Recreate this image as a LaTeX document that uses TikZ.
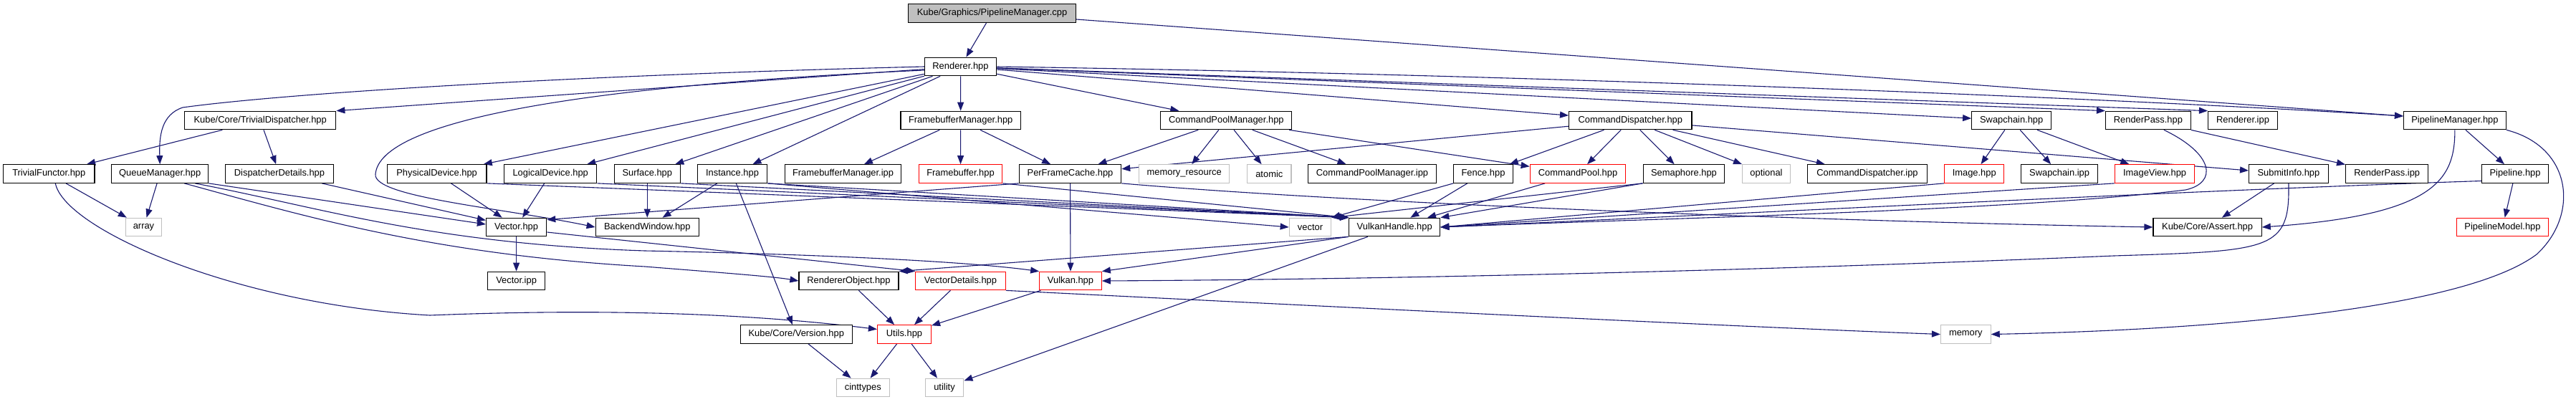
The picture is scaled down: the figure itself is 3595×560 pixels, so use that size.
\documentclass[tikz,border=0pt]{standalone}
\usepackage{fontspec}
\setmainfont{Liberation Sans}
\usetikzlibrary{arrows.meta,backgrounds}
\definecolor{edgec}{HTML}{191970}
\definecolor{grayc}{HTML}{BFBFBF}
\definecolor{redc}{HTML}{FF0000}
\begin{document}
\begin{tikzpicture}[x=1pt,y=-1pt,
  nd/.style={draw=black, line width=1.2pt, minimum height=25.5pt, inner sep=0pt, fill=white,
    font=\fontsize{12.9}{15}\selectfont},
  sysn/.style={nd, draw=grayc},
  trunc/.style={nd, draw=redc},
  rootn/.style={nd, fill=grayc},
  edg/.style={draw=edgec, line width=1.1pt, -{Triangle[length=12pt,width=9pt]}},
]
\useasboundingbox (0,0) rectangle (3595,560);
% row 1
\node[rootn, minimum width=234pt] (root) at (1384.5,18.5) {Kube/Graphics/PipelineManager.cpp};
% row 2
\node[nd, minimum width=100.3pt] (renderer) at (1340.5,93) {Renderer.hpp};
% row 3
\node[nd, minimum width=211.2pt] (tdisp) at (363.2,168) {Kube/Core/TrivialDispatcher.hpp};
\node[nd, minimum width=167.3pt] (fbm) at (1340.7,168) {FramebufferManager.hpp};
\node[nd, minimum width=183.1pt] (cpm) at (1711.3,168) {CommandPoolManager.hpp};
\node[nd, minimum width=171.4pt] (cdisp) at (2275.3,168) {CommandDispatcher.hpp};
\node[nd, minimum width=111pt] (swap) at (2807.2,168) {Swapchain.hpp};
\node[nd, minimum width=118.8pt] (rpass) at (2997.9,168) {RenderPass.hpp};
\node[nd, minimum width=96.9pt] (ripp) at (3130,168) {Renderer.ipp};
\node[nd, minimum width=142.7pt] (pmgr) at (3425.9,168) {PipelineManager.hpp};
% row 4
\node[nd, minimum width=127.4pt] (tfunc) at (68.3,242.5) {TrivialFunctor.hpp};
\node[nd, minimum width=134.7pt] (qmgr) at (223.2,242.5) {QueueManager.hpp};
\node[nd, minimum width=150.8pt] (ddet) at (390,242.5) {DispatcherDetails.hpp};
\node[nd, minimum width=138.6pt] (phys) at (609.6,242.5) {PhysicalDevice.hpp};
\node[nd, minimum width=129pt] (logi) at (768.2,242.5) {LogicalDevice.hpp};
\node[nd, minimum width=92.2pt] (surf) at (903.3,242.5) {Surface.hpp};
\node[nd, minimum width=97.5pt] (inst) at (1022,242.5) {Instance.hpp};
\node[nd, minimum width=162.6pt] (fbmipp) at (1176.5,242.5) {FramebufferManager.ipp};
\node[trunc, minimum width=116.3pt] (fb) at (1340.5,242.5) {Framebuffer.hpp};
\node[nd, minimum width=142.3pt] (pfc) at (1493.5,242.5) {PerFrameCache.hpp};
\node[sysn, minimum width=126.2pt] (memres) at (1652.7,242.5) {memory\_resource};
\node[sysn, minimum width=61.2pt] (atomic) at (1771.3,242.5) {atomic};
\node[nd, minimum width=178.7pt] (cpmipp) at (1915,242.5) {CommandPoolManager.ipp};
\node[nd, minimum width=82.3pt] (fence) at (2070,242.5) {Fence.hpp};
\node[trunc, minimum width=133.5pt] (cpool) at (2202,242.5) {CommandPool.hpp};
\node[nd, minimum width=113.7pt] (sema) at (2350,242.5) {Semaphore.hpp};
\node[sysn, minimum width=67pt] (optional) at (2465,242.5) {optional};
\node[nd, minimum width=166.8pt] (cdipp) at (2606,242.5) {CommandDispatcher.ipp};
\node[trunc, minimum width=82.7pt] (image) at (2755.2,242.5) {Image.hpp};
\node[nd, minimum width=107pt] (swipp) at (2874.1,242.5) {Swapchain.ipp};
\node[trunc, minimum width=111.4pt] (iview) at (3007.1,242.5) {ImageView.hpp};
\node[nd, minimum width=110.6pt] (subinfo) at (3193.9,242.5) {SubmitInfo.hpp};
\node[nd, minimum width=115.2pt] (rpipp) at (3331.2,242.5) {RenderPass.ipp};
\node[nd, minimum width=93.3pt] (pipe) at (3510,242.5) {Pipeline.hpp};
% row 5
\node[sysn, minimum width=50.5pt] (array) at (200.5,317) {array};
\node[nd, minimum width=84.2pt] (vec) at (720.6,317) {Vector.hpp};
\node[nd, minimum width=144.2pt] (bwin) at (903.3,317) {BackendWindow.hpp};
\node[sysn, minimum width=58.5pt] (stdvec) at (1828.5,317) {vector};
\node[nd, minimum width=127pt] (vkh) at (1946.2,317) {VulkanHandle.hpp};
\node[nd, minimum width=151.2pt] (assert) at (3080.6,317) {Kube/Core/Assert.hpp};
\node[trunc, minimum width=128pt] (pmodel) at (3492.5,317) {PipelineModel.hpp};
% row 6
\node[nd, minimum width=80.4pt] (vecipp) at (720.6,392) {Vector.ipp};
\node[nd, minimum width=139pt] (robj) at (1184.5,392) {RendererObject.hpp};
\node[trunc, minimum width=125.5pt] (vdet) at (1340.5,392) {VectorDetails.hpp};
\node[trunc, minimum width=86.5pt] (vulkan) at (1494,392) {Vulkan.hpp};
% row 7
\node[nd, minimum width=156.2pt] (version) at (1111.3,466.5) {Kube/Core/Version.hpp};
\node[trunc, minimum width=75pt] (utils) at (1262,466.5) {Utils.hpp};
\node[sysn, minimum width=69.6pt] (memory) at (2743.3,466.5) {memory};
% row 8
\node[sysn, minimum width=74pt] (cint) at (1204.3,541) {cinttypes};
\node[sysn, minimum width=53.7pt] (utility) at (1318,541) {utility};

\begin{scope}[on background layer]
\fill[white] (0,0) rectangle (3595,560);
% root
\draw[edg] (root) -- (renderer);
\draw[edg] (root) -- ([yshift=6pt]pmgr.west);
% Renderer.hpp
\draw[edg] (renderer.west) .. controls (800,105) and (400,130) .. (255,150) .. controls (225,160) and (222,190) .. (qmgr.north);
\draw[edg] (renderer) -- (tdisp.north east);
\draw[edg] (renderer) -- (phys);
\draw[edg] (renderer) -- (logi);
\draw[edg] (renderer) -- (surf);
\draw[edg] (renderer) -- (inst);
\draw[edg] ([yshift=-5pt]renderer.west) .. controls (800,120) and (530,170) .. (524,243) .. controls (520,275) and (700,290) .. (bwin.west);
\draw[edg] (renderer) -- (fbm);
\draw[edg] (renderer) -- (cpm);
\draw[edg] (renderer) -- (cdisp);
\draw[edg] (renderer) -- (swap);
\draw[edg] (renderer) -- (rpass.north west);
\draw[edg] (renderer) -- (ripp.north west);
\draw[edg] (renderer.east) .. controls (2200,105) and (3000,140) .. ([yshift=6pt]pmgr.west);
% TrivialDispatcher / TrivialFunctor
\draw[edg] (tdisp) -- (tfunc);
\draw[edg] (tdisp) -- (ddet);
\draw[edg] (tfunc) -- (array);
\draw[edg] ([xshift=9pt]tfunc.south) .. controls (90,320) and (330,425) .. (600,440) .. controls (850,430) and (1050,438) .. ([yshift=7pt]utils.west);
% QueueManager
\draw[edg] (qmgr) -- (array);
\draw[edg] (qmgr.south east) -- ([yshift=4pt]vec.west);
\draw[edg] ([xshift=49pt]qmgr.south) .. controls (450,290) and (600,340) .. (900,350) .. controls (1150,355) and (1350,365) .. (vulkan.north west);
\draw[edg] ([xshift=34pt]qmgr.south) .. controls (420,300) and (600,355) .. (900,372) .. controls (1000,380) and (1080,386) .. (robj.west);
\draw[edg] (ddet) -- (vec);
% devices
\draw[edg] (phys) -- (vec);
\draw[edg] (logi) -- (vec);
\draw[edg] (phys.south east) -- (vkh.north west);
\draw[edg] (logi.south east) -- (vkh.north west);
\draw[edg] (surf.south east) -- (vkh.north west);
\draw[edg] (inst.south east) -- (vkh.north west);
\draw[edg] (surf) -- (bwin);
\draw[edg] (inst) -- (bwin);
\draw[edg] (inst) -- (version);
\draw[edg] (inst.south east) -- (stdvec.west);
% framebuffer manager
\draw[edg] (fbm) -- (fbmipp);
\draw[edg] (fbm) -- (fb);
\draw[edg] (fbm) -- (pfc);
\draw[edg] (fb.south east) -- (vkh.north west);
\draw[edg] (pfc.south west) -- ([yshift=-3pt]vec.north east);
\draw[edg] (pfc) -- (vulkan);
\draw[edg] (pfc.south east) .. controls (1900,285) and (2600,310) .. (assert.west);
% command pool manager
\draw[edg] (cpm) -- (pfc);
\draw[edg] (cpm) -- (memres);
\draw[edg] (cpm) -- (atomic);
\draw[edg] (cpm) -- (cpmipp);
\draw[edg] (cpm) -- (cpool);
% command dispatcher
\draw[edg] (cdisp) -- (pfc);
\draw[edg] (cdisp) -- (fence);
\draw[edg] (cdisp) -- (cpool);
\draw[edg] (cdisp) -- (sema);
\draw[edg] (cdisp) -- (optional);
\draw[edg] (cdisp) -- (cdipp);
\draw[edg] (cdisp) -- (subinfo);
\draw[edg] (fence.south west) -- (stdvec.north east);
\draw[edg] (fence) -- (vkh);
\draw[edg] (cpool) -- (vkh);
\draw[edg] (sema.south west) -- (stdvec.north east);
\draw[edg] (sema.south west) -- (vkh.north east);
% swapchain
\draw[edg] (swap) -- (image);
\draw[edg] (swap) -- (swipp);
\draw[edg] (swap) -- (iview);
\draw[edg] (image.south west) -- (vkh.east);
\draw[edg] (iview.south west) -- (vkh.east);
% render pass
\draw[edg] ([xshift=22pt]rpass.south) .. controls (3090,215) and (3095,255) .. (3050,265) .. controls (2800,295) and (2300,305) .. (vkh.east);
\draw[edg] (rpass) -- (rpipp);
% submit info
\draw[edg] (subinfo) -- (assert);
\draw[edg] (subinfo.south) .. controls (3196,350) and (3170,350) .. (2950,357) .. controls (2400,380) and (1900,390) .. (vulkan.east);
% pipeline manager
\draw[edg] (pmgr) -- (pipe);
\draw[edg] (pmgr.south) .. controls (3426,250) and (3400,300) .. (assert.east);
\draw[edg] (pmgr.south east) .. controls (3590,205) and (3600,300) .. (3540,355) .. controls (3440,430) and (3100,460) .. (memory.east);
\draw[edg] ([yshift=-10pt]pipe.west) .. controls (3000,268) and (2400,300) .. (vkh.east);
\draw[edg] (pipe) -- (pmodel);
% vector
\draw[edg] (vec) -- (vecipp);
\draw[edg] ([yshift=-7pt]vec.east) -- (vdet.north west);
% vulkan handle
\draw[edg] (vkh.south west) -- (robj.north east);
\draw[edg] (vkh.south west) -- (vulkan.north east);
\draw[edg] (vkh) -- (utility);
% lower rows
\draw[edg] (robj) -- (utils);
\draw[edg] (vdet) -- (utils);
\draw[edg] (vulkan) -- (utils);
\draw[edg] (vdet.south east) .. controls (1800,425) and (2400,455) .. (memory.west);
\draw[edg] (version) -- (cint);
\draw[edg] (utils) -- (cint);
\draw[edg] (utils) -- (utility);
\end{scope}
\end{tikzpicture}
\end{document}
